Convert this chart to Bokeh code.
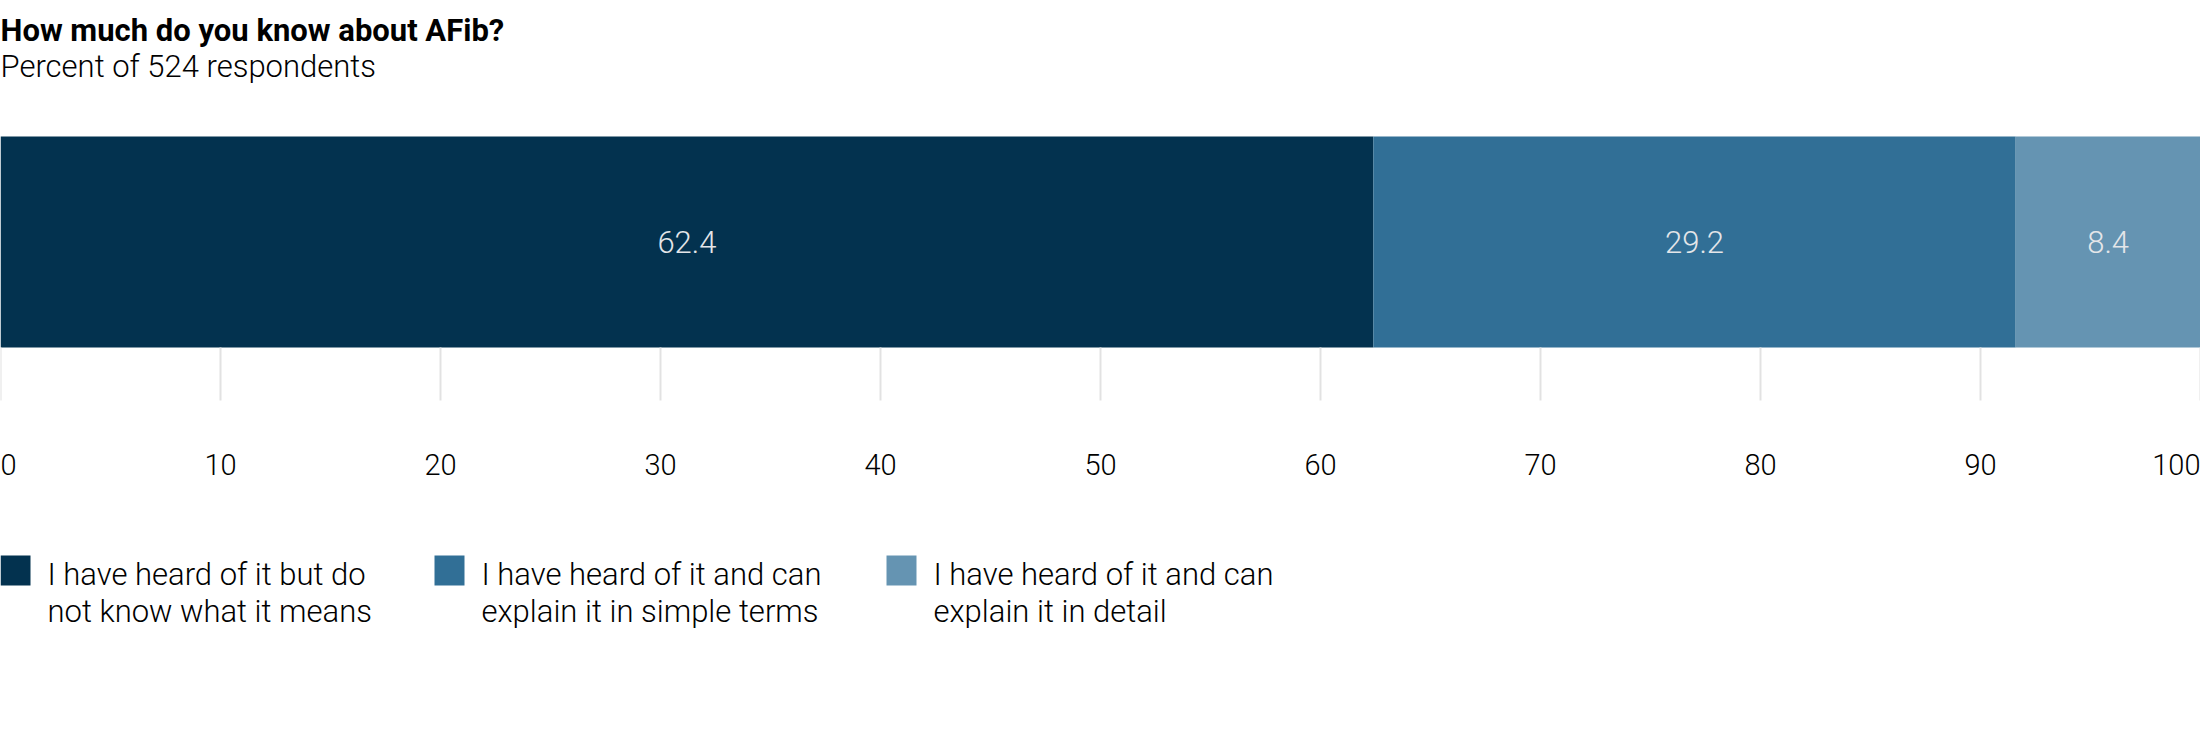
from bokeh.plotting import figure
from bokeh.models import Range1d, ColumnDataSource
from bokeh.core.properties import value
from bokeh.embed import file_html
from bokeh.resources import INLINE

# ---- data ----
title = "How much do you know about AFib?"
subtitle = "Percent of 524 respondents"
categories = [
    "I have heard of it but do\nnot know what it means",
    "I have heard of it and can\nexplain it in simple terms",
    "I have heard of it and can\nexplain it in detail",
]
values = [62.4, 29.2, 8.4]
ticks = [0, 10, 20, 30, 40, 50, 60, 70, 80, 90, 100]
colors = ["#03324f", "#316f96", "#6594b2"]

FONT = "Roboto"
LIGHT = "Roboto Light, Roboto"
W, H = 2200, 700

p = figure(width=W, height=H, output_backend="svg", toolbar_location=None,
           x_range=Range1d(0, 100), y_range=Range1d(H, 0),
           min_border=0, min_border_left=0, min_border_right=0,
           min_border_top=0, min_border_bottom=0)
p.axis.visible = False
p.grid.visible = False
p.outline_line_color = None
p.background_fill_color = "white"
p.border_fill_color = "white"

def px(xp):
    # pixel offset -> data x
    return xp / W * 100.0

# title / subtitle
p.text(x=[0], y=[30], text=[title], text_font=value(FONT), text_font_style="bold",
       text_font_size="31px", text_color="#000000", text_baseline="alphabetic")
p.text(x=[0], y=[66], text=[subtitle], text_font=value(LIGHT),
       text_font_size="31px", text_color="#000000", text_baseline="alphabetic")

# stacked bar
lefts, rights = [], []
acc = 0.0
for v in values:
    lefts.append(acc)
    acc += v
    rights.append(acc)
bar_top, bar_bot = 136, 347
src = ColumnDataSource(dict(left=lefts, right=rights, color=colors,
                            mid=[(l + r) / 2 for l, r in zip(lefts, rights)],
                            label=[f"{v:.1f}" for v in values]))
p.hbar(y=(bar_top + bar_bot) / 2, height=bar_bot - bar_top, left="left", right="right",
       fill_color="color", line_color=None, source=src)
p.text(x="mid", y=(bar_top + bar_bot) / 2, text="label", source=src,
       text_font=value(LIGHT), text_font_size="31px", text_color="#e4e6e9",
       text_align="center", text_baseline="middle")

# ticks
tick_src = ColumnDataSource(dict(
    x=ticks, label=[str(t) for t in ticks],
    align=["left" if t == ticks[0] else ("right" if t == ticks[-1] else "center") for t in ticks]))
p.segment(x0="x", x1="x", y0=bar_bot, y1=400, source=tick_src,
          line_color="#e2e2e2", line_width=2)
p.text(x="x", y=464, text="label", text_align="align", source=tick_src,
       text_font=value(LIGHT), text_font_size="29px", text_color="#000000",
       text_baseline="middle")

# legend
leg_x = [0, 434, 886]
for cx, cat, col in zip(leg_x, categories, colors):
    p.rect(x=[px(cx + 15)], y=[570], width=30, height=30, width_units="screen",
           height_units="screen", fill_color=col, line_color=None)
    lines = cat.split("\n")
    for i, ln in enumerate(lines):
        p.text(x=[px(cx + 47)], y=[574 + 37 * i], text=[ln], text_font=value(LIGHT),
               text_font_size="31px", text_color="#000000", text_baseline="alphabetic")

open("out.html", "w").write(file_html(p, INLINE))
